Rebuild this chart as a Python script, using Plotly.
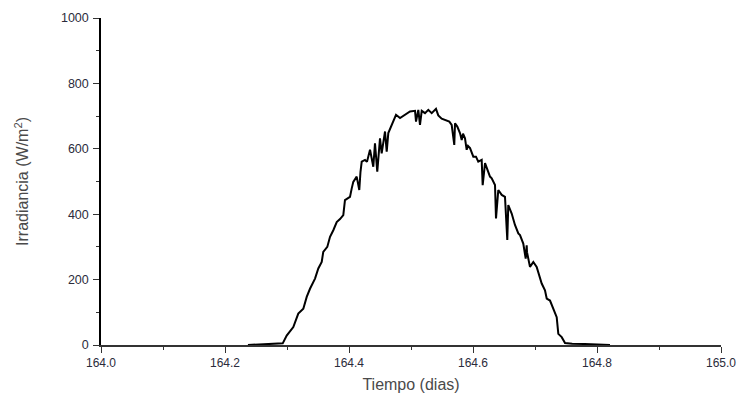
import plotly.graph_objects as go

# Time in days (day 164 + fraction)
tiempo = [
    164.237, 164.253, 164.270, 164.285, 164.2931, 164.2995, 164.3102, 164.3182, 164.3263, 164.3318,
    164.3371, 164.3452, 164.3505, 164.3560, 164.3585, 164.3650, 164.3694, 164.3747, 164.3802, 164.3855,
    164.3908, 164.3935, 164.4016, 164.4044, 164.4069, 164.4124, 164.4166, 164.4185, 164.4205, 164.4258,
    164.4290, 164.4339, 164.4392, 164.4419, 164.4456, 164.4500, 164.4527, 164.4581, 164.4608, 164.4634,
    164.4689, 164.4726, 164.4758, 164.4823, 164.4903, 164.4984, 164.5065, 164.5081, 164.5118, 164.5145,
    164.5173, 164.5226, 164.5279, 164.5334, 164.5403, 164.5440, 164.5495, 164.5548, 164.5618, 164.5656,
    164.5698, 164.5710, 164.5747, 164.5790, 164.5818, 164.5839, 164.5871, 164.5898, 164.5919, 164.5952,
    164.6005, 164.6048, 164.6085, 164.6140, 164.6156, 164.6194, 164.6231, 164.6274, 164.6302, 164.6355,
    164.6371, 164.6408, 164.6463, 164.6516, 164.6553, 164.6569, 164.6624, 164.6677, 164.6731, 164.6758,
    164.6811, 164.6850, 164.6866, 164.6871, 164.6919, 164.6973, 164.7027, 164.7053, 164.7108, 164.7161,
    164.7189, 164.7242, 164.7295, 164.7350, 164.7376, 164.7431, 164.7484, 164.7600, 164.7800, 164.8080,
    164.8210,
]

# Irradiance in W/m^2
irradiancia = [
    0, 2, 3, 4, 5, 29, 55, 96, 111, 147,
    172, 203, 234, 254, 285, 300, 331, 351, 376, 385,
    397, 443, 453, 479, 499, 515, 474, 529, 561, 566,
    560, 597, 545, 617, 530, 632, 586, 653, 591, 648,
    674, 689, 704, 694, 704, 714, 716, 683, 719, 673,
    716, 709, 719, 709, 722, 702, 692, 689, 683, 673,
    612, 678, 668, 648, 627, 646, 632, 597, 609, 602,
    576, 576, 561, 566, 489, 556, 535, 515, 510, 489,
    387, 474, 459, 453, 321, 428, 402, 367, 341, 336,
    310, 264, 305, 284, 239, 254, 239, 223, 188, 167,
    142, 136, 111, 85, 34, 24, 6, 4, 3, 2,
    0,
]

x_ticks = [164.0, 164.2, 164.4, 164.6, 164.8, 165.0]
x_ticklabels = ["164.0", "164.2", "164.4", "164.6", "164.8", "165.0"]
y_ticks = [0, 200, 400, 600, 800, 1000]
y_ticklabels = ["0", "200", "400", "600", "800", "1000"]

fig = go.Figure()
fig.add_trace(go.Scatter(
    x=tiempo, y=irradiancia, mode="lines",
    line=dict(color="black", width=2),
    showlegend=False, hoverinfo="x+y",
))

xtick_font = dict(family="Liberation Sans, Arial, sans-serif", size=12, color="#2b2b3b")
ytick_font = dict(family="Liberation Sans, Arial, sans-serif", size=12.5, color="#2b2b3b")
title_font = dict(family="Liberation Sans, Arial, sans-serif", size=16, color="#4a4a4a")

fig.update_layout(
    width=738, height=396,
    margin=dict(l=101, r=17, t=18, b=51),
    paper_bgcolor="white", plot_bgcolor="white",
    xaxis=dict(
        range=[164.0, 165.0], automargin=False,
        tickmode="array", tickvals=x_ticks, ticktext=x_ticklabels,
        ticks="outside", ticklen=6, tickwidth=1, tickcolor="#333",
        minor=dict(dtick=0.1, tick0=164.0, ticks="outside", ticklen=3, tickcolor="#333", showgrid=False),
        showline=True, linecolor="#333", linewidth=1.5,
        showgrid=False, zeroline=False,
        tickfont=xtick_font,
        title=dict(text="Tiempo (dias)", font=title_font, standoff=10),
    ),
    yaxis=dict(
        range=[0, 1000], automargin=False,
        tickmode="array", tickvals=y_ticks, ticktext=y_ticklabels,
        ticks="outside", ticklen=6, tickwidth=1, tickcolor="#333",
        minor=dict(dtick=100, tick0=0, ticks="outside", ticklen=3, tickcolor="#333", showgrid=False),
        showline=True, linecolor="black", linewidth=1.5,
        showgrid=False, zeroline=False,
        tickfont=ytick_font, ticklabelstandoff=2,
        title=dict(text="Irradiancia (W/m<sup>2</sup>)", font=title_font, standoff=28),
    ),
)

# remove the default page margin so the 738x396 figure fills the window exactly
fig.write_html(
    "out.html",
    config={"displayModeBar": False},
    post_script="document.body.style.margin='0';document.body.style.overflow='hidden';",
)
